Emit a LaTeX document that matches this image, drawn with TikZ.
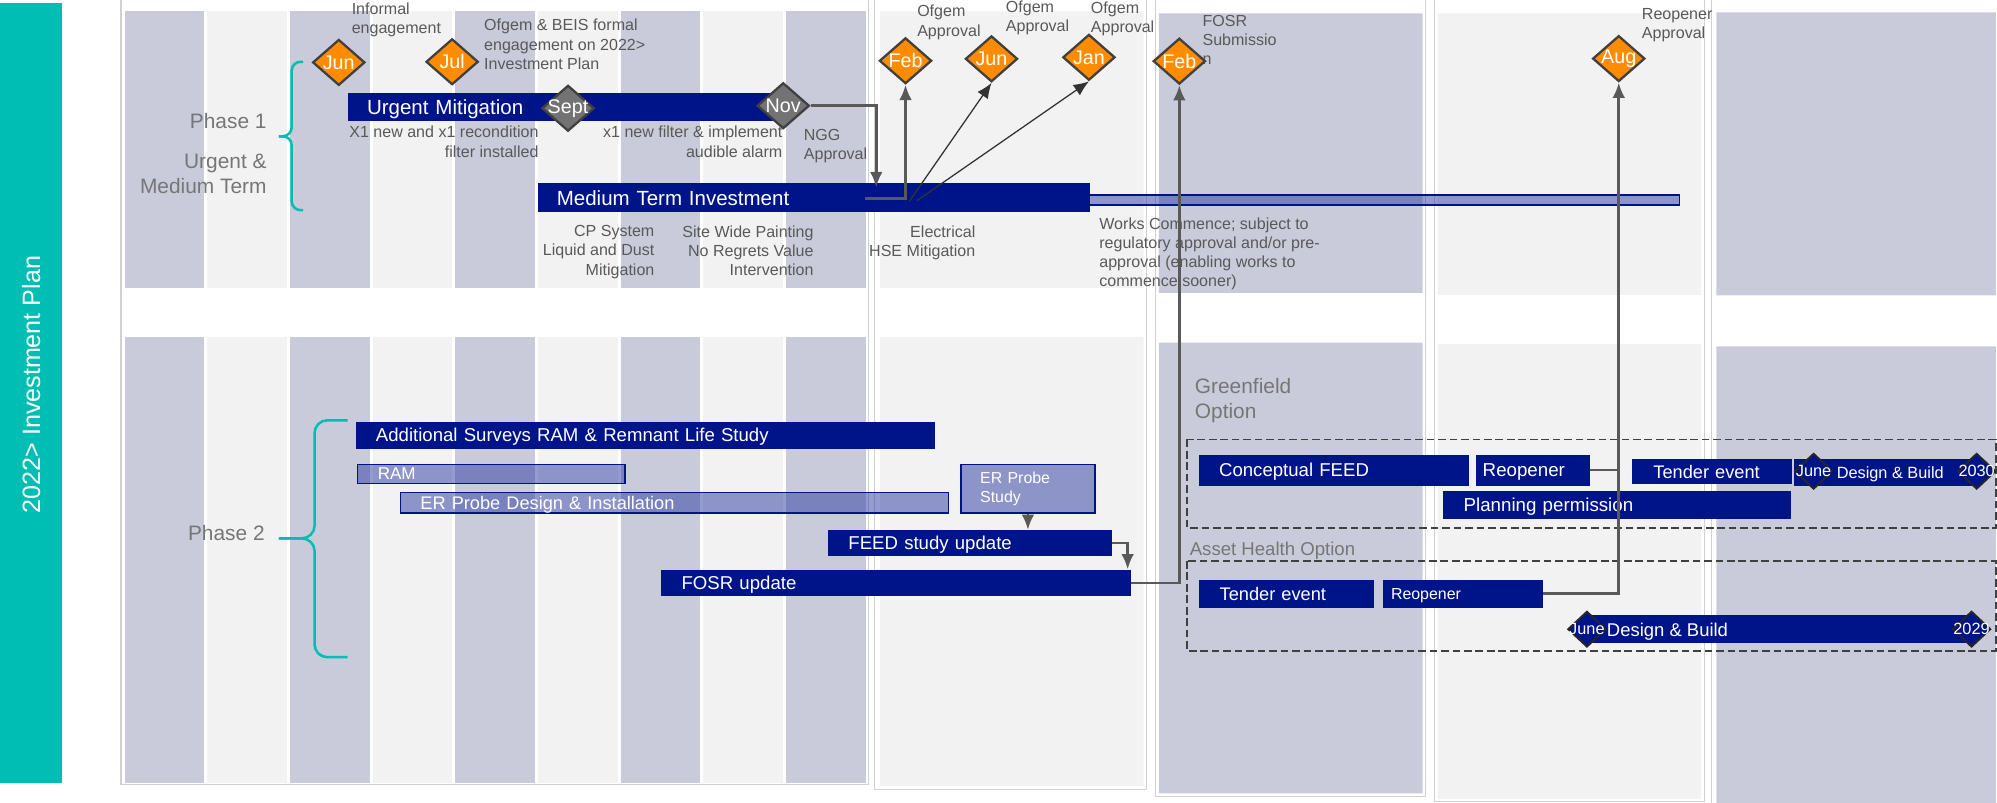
\documentclass[tikz,border=0pt]{standalone}
\usepackage{fontspec}
\setmainfont{Liberation Sans}
\usetikzlibrary{arrows.meta,shapes.geometric}

\definecolor{ngblue}{RGB}{0,20,137}
\definecolor{ngorange}{RGB}{255,140,0}
\definecolor{teal1}{RGB}{0,190,180}
\definecolor{stripeA}{RGB}{201,203,219}
\definecolor{stripeB}{RGB}{242,242,242}
\definecolor{lbar}{RGB}{42,58,160}
\definecolor{txtgray}{RGB}{89,89,89}
\definecolor{phgray}{RGB}{118,118,118}
\definecolor{linegray}{RGB}{89,89,89}
\definecolor{framegray}{RGB}{208,208,208}

\newcommand\fsz[2]{\fontsize{#1}{#2}\selectfont}
\newcommand\mlab[1]{\makebox[0pt]{#1}}

\begin{document}
\begin{tikzpicture}[x=1pt,y=-1pt,>={Latex[length=12pt,width=10pt]},
		bar/.style = {fill=ngblue,text=white,anchor=north west,inner ysep=0pt,inner xsep=16pt,text depth=0pt,align=left,font=\fsz{14.6}{16}},
		bigbar/.style = {bar,inner xsep=15pt,font=\fsz{16.1}{18}},
		lightbar/.style = {bar,fill=lbar,fill opacity=.5,text opacity=1,draw=ngblue,line width=1.2pt},
		plainbar/.style = {fill=ngblue,anchor=north west,inner sep=0pt},
		lbl/.style = {text=txtgray,inner sep=0pt,font=\fsz{12.6}{15}},
		phase/.style = {text=phgray,inner sep=0pt,font=\fsz{16.4}{19.6}},
		month/.style = {diamond,draw=black!75,line width=1.8pt,fill=ngorange,minimum width=41pt,minimum height=36pt,inner sep=0pt,text=white,font=\fsz{15.5}{16}},
		graymonth/.style = {month,fill=black!55},
		dbpt/.style = {diamond,draw=black!85,line width=1.5pt,fill=ngblue,minimum width=30pt,minimum height=28pt,inner sep=0pt,text=white,font=\fsz{12.8}{13}},
		dbtxt/.style = {anchor=west,text=white,inner sep=0pt,text depth=0pt},
		conn/.style = {draw=linegray,line width=2pt},
		slim/.style = {draw=black!80,line width=1pt},
		phbrace/.style = {draw=teal1,line width=2pt,rounded corners=7pt},
		optbox/.style = {draw=black!75,line width=1.3pt,dash pattern=on 6pt off 3pt}
		]
		\useasboundingbox (0,0) rectangle (1568,630);
		%SFONDO
		\fill[teal1] (0,2) rectangle (49,615);
		\node[rotate=90,text=white,inner sep=0pt,font=\fsz{19.7}{20}] (title) at (24.5,302) {2022> Investment Plan};
		\draw[framegray,line width=.8pt] (95,-5) rectangle (681.7,615.8) (687,-5) rectangle (900.5,619.6)
			(907,-5) rectangle (1119.5,625.5) (1126,-5) rectangle (1338,629.5) (1344,-5) rectangle (1580,640);
		\foreach \x in {98,227.8,357.6,487.4,617.2} {
			\fill[stripeA] (\x,9) rectangle ++(62.5,217);
			\fill[stripeA] (\x,264.5) rectangle ++(62.5,350);
		}
		\foreach \x in {162.9,292.7,422.5,552.3} {
			\fill[stripeB] (\x,9) rectangle ++(62.5,217);
			\fill[stripeB] (\x,264.5) rectangle ++(62.5,350);
		}
		\fill[stripeB] (691,9) rectangle (898,226) (691,264.5) rectangle (898,617);
		\fill[stripeA] (910,10.5) rectangle (1117,230) (910,269) rectangle (1117,623);
		\fill[stripeB] (1129,10.5) rectangle (1335.6,231.6) (1129,270) rectangle (1335.6,627.5);
		\fill[stripeA] (1347.6,9.7) rectangle (1567,232) (1347.6,272) rectangle (1567,640);
		%FASI
		\node[phase,anchor=north east] (ph1) at (209.5,89) {Phase 1};
		\node[phase,anchor=north east,align=right] (ph1b) at (209.5,121) {Urgent \&\\Medium Term};
		\node[phase,anchor=north east] (ph2) at (208,412) {Phase 2};
		\draw[phbrace] (238,48.5) -- (229,48.5) -- (229,107) -- (219,107);
		\draw[phbrace] (219,107) -- (229,107) -- (229,165) -- (238,165);
		\draw[phbrace,rounded corners=10pt] (273,330) -- (247,330) -- (247,422.7) -- (219,422.7);
		\draw[phbrace,rounded corners=10pt] (219,422.7) -- (247,422.7) -- (247,516) -- (273,516);
		%NOTE
		\node[lbl,anchor=north west,align=left] (informal) at (276,2) {Informal\\engagement};
		\node[lbl,anchor=north west,align=left] (beis) at (380,15) {Ofgem \& BEIS formal\\engagement on 2022>\\Investment Plan};
		\node[lbl,anchor=north east,align=right] (filt1) at (423,99) {X1 new and x1 recondition\\filter installed};
		\node[lbl,anchor=north east,align=right] (filt2) at (614.5,99) {x1 new filter \& implement\\audible alarm};
		\node[lbl,anchor=north west,align=left] (ngglbl) at (631,101) {NGG\\Approval};
		\node[lbl,anchor=north east,align=right] (cp) at (514,177) {CP System\\Liquid and Dust\\Mitigation};
		\node[lbl,anchor=north east,align=right] (paint) at (639,177) {Site Wide Painting\\No Regrets Value\\Intervention};
		\node[lbl,anchor=north east,align=right] (elec) at (766,177) {Electrical\\HSE Mitigation};
		\node[lbl,anchor=north west,align=left] (ofg1) at (720,4) {Ofgem\\Approval};
		\node[lbl,anchor=north west,align=left] (ofg2) at (789.6,0.5) {Ofgem\\Approval};
		\node[lbl,anchor=north west,align=left] (ofg3) at (856.4,1.3) {Ofgem\\Approval};
		\node[lbl,anchor=north west,align=left] (fosrlbl) at (944,12) {FOSR\\Submissio\\n};
		\node[lbl,anchor=north west,align=left] (reolbl) at (1289,6.5) {Reopener\\Approval};
		\node[lbl,anchor=north west,align=left] (works) at (863,171) {Works Commence; subject to\\regulatory approval and/or pre-\\approval (enabling works to\\commence sooner)};
		\node[phase,anchor=north west,align=left] (gfopt) at (938,297) {Greenfield\\Option};
		\node[phase,anchor=north west,font=\fsz{14.6}{16}] (ahopt) at (934,425) {Asset Health Option};
		%BARRE FASE 1
		\node[lightbar,minimum width=463pt,minimum height=8pt,inner sep=0pt] (mtext) at (855,152.5) {};
		\node[bigbar,text width=312pt,minimum height=22pt] (urgent) at (273,73) {Urgent Mitigation};
		\node[bigbar,text width=404pt,minimum height=23pt] (mtinv) at (422,143.5) {Medium Term Investment};
		%BARRE FASE 2
		\node[bar,text width=423pt,minimum height=21pt] (survey) at (279,331) {Additional Surveys RAM \& Remnant Life Study};
		\node[lightbar,text width=178pt,minimum height=15pt,font=\fsz{13.4}{14}] (ram) at (280,364) {RAM};
		\node[lightbar,text width=399pt,inner xsep=15.5pt,minimum height=16pt,font=\fsz{14.3}{15}] (erpdi) at (314,386) {ER Probe Design \& Installation};
		\node[lightbar,text width=75pt,inner xsep=15pt,minimum height=38pt,text depth=17.6pt,font=\fsz{12.5}{15}] (erstudy) at (754,364) {ER Probe\\Study};
		\node[bar,text width=191pt,minimum height=20pt] (feed) at (650,416) {FEED study update};
		\node[bar,text width=337pt,minimum height=21pt] (fosr) at (519,447) {FOSR update};
		%OPZIONI
		\draw[optbox] (932,345) rectangle (1567,414.6);
		\draw[optbox] (932,440.5) rectangle (1567,511);
		\node[bar,text width=180pt,minimum height=24pt] (cfeed) at (941,357) {Conceptual FEED};
		\node[bar,inner xsep=5pt,text width=79pt,minimum height=24pt,font=\fsz{14.7}{16}] (gfreo) at (1159,357) {Reopener};
		\node[bar,inner xsep=17pt,text width=92pt,minimum height=20pt,font=\fsz{14.3}{16}] (gftender) at (1281,360) {Tender event};
		\node[plainbar,minimum width=146pt,minimum height=21pt,label={[dbtxt,xshift=34pt,font=\fsz{12.8}{13}]west:Design \& Build}] (gfdb) at (1408,360) {};
		\node[bar,text width=241pt,minimum height=22.5pt,font=\fsz{14.7}{16}] (planning) at (1133,385) {Planning permission};
		\node[bar,text width=105.5pt,minimum height=22pt,font=\fsz{14.3}{16}] (ahtender) at (941.5,455) {Tender event};
		\node[bar,inner xsep=6pt,text width=113pt,minimum height=22pt,font=\fsz{12.5}{14}] (ahreo) at (1086,455) {Reopener};
		\node[plainbar,minimum width=302pt,minimum height=22pt,label={[dbtxt,xshift=15.5pt,font=\fsz{14.5}{15}]west:Design \& Build}] (ahdb) at (1246,483) {};
		\node[dbpt] (gfjune) at (1424,370) {\mlab{June}};
		\node[dbpt] (gf2030) at (1552,370) {\mlab{2030}};
		\node[dbpt] (ahjune) at (1246,494) {\mlab{June}};
		\node[dbpt] (ah2029) at (1548,494) {\mlab{2029}};
		%MILESTONE
		\node[month] (jun1) at (266,49) {\mlab{Jun}};
		\node[month] (jul) at (355,48.5) {\mlab{Jul}};
		\node[graymonth] (sept) at (446,85) {\mlab{Sept}};
		\node[graymonth] (nov) at (615,83) {\mlab{Nov}};
		\node[month] (feb1) at (711,47.7) {\mlab{Feb}};
		\node[month] (jun2) at (778.5,46.2) {\mlab{Jun}};
		\node[month] (jan) at (855,45) {\mlab{Jan}};
		\node[month] (feb2) at (926,48) {\mlab{Feb}};
		\node[month] (aug) at (1271,46) {\mlab{Aug}};
		%FRECCE
		\coordinate (ngg) at (688,147);
		\coordinate (mtA) at (679,156);
		\coordinate (mtB) at (714,158);
		\coordinate (mtC) at (720,157.5);
		\draw[conn,->] (nov.east) -| (ngg);
		\draw[conn,->] (mtA) -| (feb1.south);
		\draw[slim,->] (mtB) -- (jun2.south);
		\draw[slim,->] (mtC) -- (jan.south);
		\draw[conn,->] (erstudy.south) -- (erstudy.south |- feed.north);
		\draw[conn,->] (feed.east) -| ([xshift=-3pt]fosr.north east);
		\draw[conn,->] (fosr.east) -| (feb2.south);
		\draw[conn] (gfreo.east) -- (gfreo.east -| aug.south);
		\draw[conn,->] (ahreo.east) -| (aug.south);
	\end{tikzpicture}
\end{document}
